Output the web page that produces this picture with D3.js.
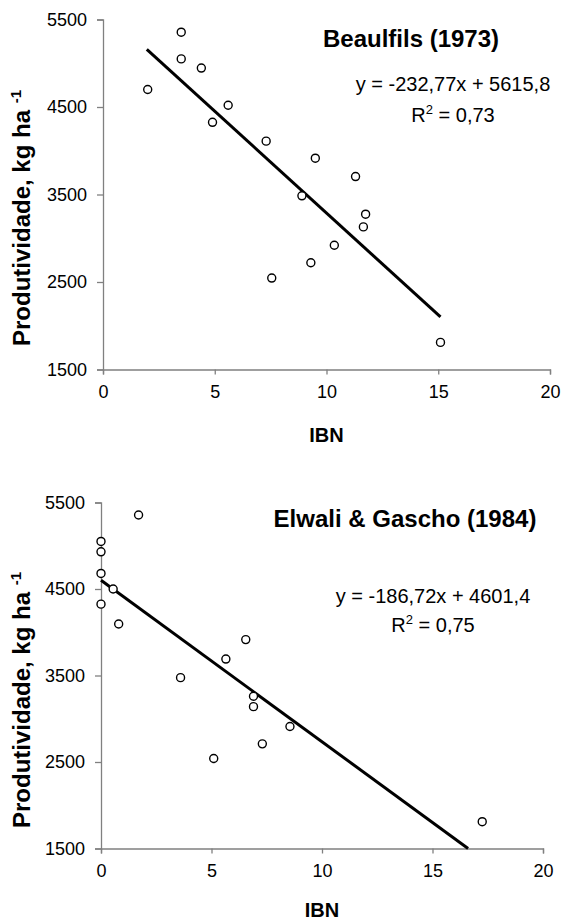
<!DOCTYPE html>
<html><head><meta charset="utf-8">
<script src="https://cdn.jsdelivr.net/npm/d3@7"></script>
<style>body{margin:0;background:#fff} text{font-family:"Liberation Sans",Arial,Helvetica,sans-serif;fill:#000}</style>
</head><body><svg id="c" width="561" height="922"></svg>
<script>
// ---- data ----
const xTicks = [0, 5, 10, 15, 20];
const yTicks = [1500, 2500, 3500, 4500, 5500];

const beaulfilsIBN  = [2.0, 3.5, 3.5, 4.4, 5.6, 4.9, 7.3, 9.5, 11.3, 8.9, 11.75, 11.65, 10.35, 9.3, 7.55, 15.1];
const beaulfilsProd = [4700, 5355, 5050, 4945, 4520, 4325, 4110, 3915, 3705, 3485, 3275, 3130, 2920, 2720, 2545, 1810];

const elwaliIBN  = [1.7, 0, 0, 0, 0.55, 0, 0.8, 6.55, 5.65, 3.6, 6.9, 6.9, 8.55, 7.3, 5.1, 17.25];
const elwaliProd = [5355, 5050, 4930, 4680, 4500, 4325, 4095, 3915, 3690, 3475, 3260, 3140, 2910, 2710, 2540, 1810];

const titles = ["Beaulfils (1973)", "Elwali & Gascho (1984)"];
const slopes = [-232.77, -186.72];
const intercepts = [5615.8, 4601.4];
const equations = ["y = -232,77x + 5615,8", "y = -186,72x + 4601,4"];
const r2s = ["0,73", "0,75"];

// ---- layout ----
const svg = d3.select("#c");
const panels = [
  {x: beaulfilsIBN, y: beaulfilsProd, L: 103, R: 550, T: 19.5, B: 369.5,
   titleX: 411, titleY: 47, eqX: 453, eqY: 90.5, r2Y: 122, yTitleY: 218, xTitleY: 442, fitFrom: 1.96},
  {x: elwaliIBN, y: elwaliProd, L: 101, R: 543, T: 502.5, B: 848.5,
   titleX: 405, titleY: 527, eqX: 433, eqY: 603, r2Y: 631.5, yTitleY: 700, xTitleY: 917, fitFrom: 0}
];

panels.forEach((p, i) => {
  const xs = d3.scaleLinear().domain([0, 20]).range([p.L, p.R]);
  const ys = d3.scaleLinear().domain([1500, 5500]).range([p.B, p.T]);
  const g = svg.append("g");

  // axes
  const xa = g.append("g").attr("transform", `translate(0,${p.B})`)
    .call(d3.axisBottom(xs).tickValues(xTicks).tickSize(5).tickPadding(9).tickFormat(d3.format("d")));
  const ya = g.append("g").attr("transform", `translate(${p.L},0)`)
    .call(d3.axisLeft(ys).tickValues(yTicks).tickSize(6).tickPadding(10).tickFormat(d3.format("d")));
  [xa, ya].forEach(a => {
    a.select(".domain").attr("stroke", "#808080").attr("stroke-width", 1.3);
    a.selectAll(".tick line").attr("stroke", "#808080").attr("stroke-width", 1.3);
    a.selectAll(".tick text").attr("font-size", 18).attr("fill", "#000")
      .style("font-family", '"Liberation Sans",Arial,sans-serif');
  });
  xa.selectAll(".tick text").attr("dy", "0.71em").attr("y", 16);
  ya.selectAll(".tick text").attr("dy", "0.33em");

  // regression line
  const xEnd = Math.min(d3.max(p.x), (intercepts[i] - 1500) / -slopes[i]);
  const fit = [p.fitFrom, xEnd].map(v => [v, slopes[i] * v + intercepts[i]]);
  g.append("path").datum(fit)
    .attr("d", d3.line().x(d => xs(d[0])).y(d => ys(d[1])))
    .attr("stroke", "#000").attr("stroke-width", 3).attr("fill", "none");

  // points
  g.selectAll("circle").data(p.x.map((v, k) => [v, p.y[k]])).enter().append("circle")
    .attr("cx", d => xs(d[0])).attr("cy", d => ys(d[1])).attr("r", 4)
    .attr("fill", "#fff").attr("stroke", "#000").attr("stroke-width", 1.4);

  // title
  g.append("text").attr("x", p.titleX).attr("y", p.titleY).attr("text-anchor", "middle")
    .attr("font-size", 24).attr("font-weight", "bold").text(titles[i]);

  // equation
  g.append("text").attr("x", p.eqX).attr("y", p.eqY).attr("text-anchor", "middle")
    .attr("font-size", 20).text(equations[i]);
  const r2 = g.append("text").attr("x", p.eqX).attr("y", p.r2Y).attr("text-anchor", "middle").attr("font-size", 20);
  r2.append("tspan").text("R");
  r2.append("tspan").attr("font-size", 13).attr("dy", -8).text("2");
  r2.append("tspan").attr("dy", 8).text(" = " + r2s[i]);

  // axis titles
  g.append("text").attr("x", (p.L + p.R) / 2).attr("y", p.xTitleY).attr("text-anchor", "middle")
    .attr("font-size", 20).attr("font-weight", "bold").text("IBN");
  const yt = g.append("text").attr("transform", `translate(30,${p.yTitleY}) rotate(-90)`)
    .attr("text-anchor", "middle").attr("font-size", 24).attr("font-weight", "bold");
  yt.append("tspan").text("Produtividade, kg ha ");
  yt.append("tspan").attr("font-size", 15).attr("dy", -9).text("-1");
});
</script></body></html>
